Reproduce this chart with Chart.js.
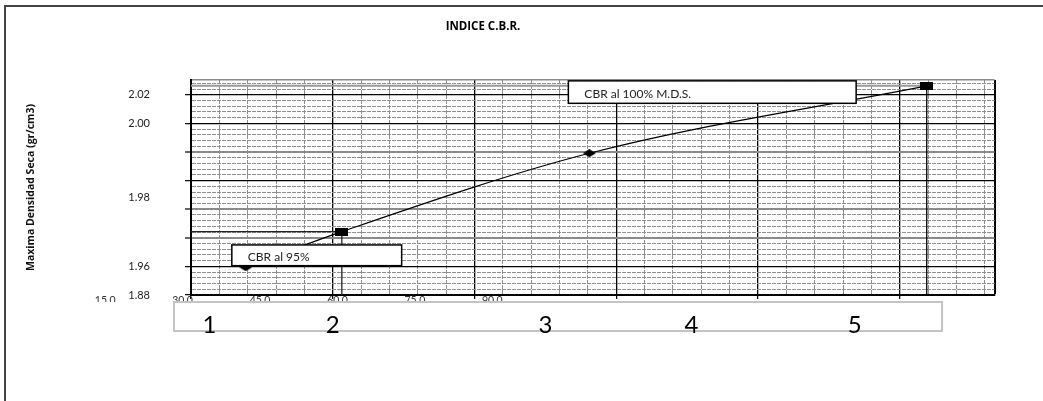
<!DOCTYPE html>
<html lang="es">
<head>
  <meta charset="UTF-8" />
  <title>Indice C.B.R.</title>
  <script src="https://cdn.jsdelivr.net/npm/chart.js@4.4.1/dist/chart.umd.min.js"></script>
  <style>
    body { margin: 0; background: #fff; }
    #wrap { width: 1043px; height: 401px; }
  </style>
</head>
<body>
  <div id="wrap"><canvas id="cbrChart" width="1043" height="401"></canvas></div>

  <script>
    // curva de densidad (x en divisiones de la cuadricula, y densidad seca)
    const puntosX = [1.93, 5.32, 14.05, 25.95];
    const densidad = [1.8994, 1.9243, 1.9791, 2.0262];
    const marcadores = ['rombo', 'cuadro', 'rombo', 'cuadro'];

    // etiquetas tal como aparecen en el eje vertical
    const etiquetasY = { '2.020': '2.02', '2.000': '2.00', '1.948': '1.98', '1.900': '1.96', '1.880': '1.88' };
    // lineas principales horizontales: negras o grises
    const mayoresGrises = ['1.920', '1.940', '1.980'];
    // eje secundario inferior
    const valoresX2 = [15, 30, 45, 60, 75, 90];
    // numeros dentro del recuadro gris
    const numerosCaja = ['1', '2', '3', '4', '5'];
    const posNumeros = [0.65, 5.0, 12.5, 17.65, 23.41];

    const notas = [
      { texto: 'CBR al 95%', x0: 1.44, x1: 7.43, y0: 1.915, y1: 1.9005 },
      { texto: 'CBR al 100% M.D.S.', x0: 13.31, x1: 23.46, y0: 2.0297, y1: 2.014 }
    ];

    const X_MAX = 28.34;
    const Y_MIN = 1.88;
    const Y_MAX = 2.0303;

    Chart.defaults.font.family = 'Lato';

    function marcador(tipo) {
      const c = document.createElement('canvas');
      c.width = 13; c.height = 8;
      const g = c.getContext('2d');
      g.fillStyle = '#000';
      if (tipo === 'cuadro') {
        g.fillRect(0, 0, 13, 8);
      } else {
        g.beginPath();
        g.moveTo(0, 4); g.lineTo(6.5, 0); g.lineTo(13, 4); g.lineTo(6.5, 8);
        g.closePath();
        g.fill();
      }
      return c;
    }

    function estiloY(tick) {
      if (!tick) return { color: '#000', width: 2, dash: [] };
      const v = tick.value;
      if (v > 2.029) return { color: '#8a8a8a', width: 1.5, dash: [] };
      const k = Math.round((v - Y_MIN) / 0.004);
      if (k % 5 === 0) {
        if (mayoresGrises.includes(v.toFixed(3))) return { color: '#8a8a8a', width: 2, dash: [] };
        return { color: '#000', width: 1.3, dash: [] };
      }
      return { color: '#8f8f8f', width: 1, dash: [4, 1] };
    }

    function estiloX(tick) {
      if (!tick) return { color: '#000', width: 2, dash: [] };
      const v = tick.value;
      if (v > 28.3) return { color: '#000', width: 2, dash: [] };
      if (Math.round(v) % 5 === 0) return { color: '#000', width: 1.3, dash: [] };
      return { color: '#8f8f8f', width: 1, dash: [4, 1] };
    }

    const fondo = {
      id: 'fondo',
      beforeDraw(chart) {
        const ctx = chart.ctx;
        ctx.save();
        ctx.fillStyle = '#fff';
        ctx.fillRect(0, 0, chart.width, chart.height);
        ctx.strokeStyle = '#444';
        ctx.lineWidth = 2;
        ctx.beginPath();
        ctx.moveTo(5, chart.height);
        ctx.lineTo(5, 6);
        ctx.lineTo(chart.width, 6);
        ctx.stroke();
        ctx.fillStyle = '#000';
        ctx.font = 'bold 11.5px "Open Sans"';
        ctx.textAlign = 'center';
        ctx.textBaseline = 'middle';
        ctx.fillText('INDICE C.B.R.', 483, 27);
        ctx.restore();
      }
    };

    const cajas = {
      id: 'cajas',
      afterDatasetsDraw(chart) {
        const { ctx, scales: { x, y, xn } } = chart;
        ctx.save();
        // recuadro gris de los numeros
        const bx0 = x.getPixelForValue(-0.6), bx1 = x.getPixelForValue(26.49);
        ctx.fillStyle = '#fff';
        ctx.fillRect(bx0, xn.top, bx1 - bx0, 29);
        ctx.strokeStyle = '#c4c4c4';
        ctx.lineWidth = 2;
        ctx.strokeRect(bx0, xn.top, bx1 - bx0, 29);
        // cuadros de texto
        notas.forEach(n => {
          const l = x.getPixelForValue(n.x0), r = x.getPixelForValue(n.x1);
          const t = y.getPixelForValue(n.y0), b = y.getPixelForValue(n.y1);
          ctx.fillStyle = '#fff';
          ctx.fillRect(l, t, r - l, b - t);
          ctx.strokeStyle = '#000';
          ctx.lineWidth = 1.5;
          ctx.strokeRect(l, t, r - l, b - t);
          ctx.fillStyle = '#222';
          ctx.font = '12px Lato';
          ctx.textAlign = 'left';
          ctx.textBaseline = 'middle';
          ctx.fillText(n.texto, l + 16, (t + b) / 2 + 2);
        });
        ctx.restore();
      }
    };

    const ctx = document.getElementById('cbrChart').getContext('2d');

    new Chart(ctx, {
      type: 'line',
      data: {
        datasets: [
          {
            label: 'Densidad',
            data: puntosX.map((x, i) => ({ x: x, y: densidad[i] })),
            borderColor: '#000',
            borderWidth: 1.2,
            cubicInterpolationMode: 'monotone',
            pointStyle: marcadores.map(marcador),
            pointRadius: 4,
            fill: false
          },
          {
            label: '95%',
            data: [{ x: 0, y: densidad[1] }, { x: puntosX[1], y: densidad[1] }, { x: puntosX[1], y: Y_MIN }],
            borderColor: '#222',
            borderWidth: 1.3,
            pointRadius: 0,
            tension: 0
          },
          {
            label: '100% vertical',
            data: [{ x: puntosX[3], y: densidad[3] }, { x: puntosX[3], y: Y_MIN }],
            borderColor: '#000',
            borderWidth: 1.3,
            pointRadius: 0
          },
          {
            label: '100% horizontal',
            data: [{ x: 0, y: densidad[3] }, { x: puntosX[3], y: densidad[3] }],
            borderColor: '#999',
            borderWidth: 2,
            pointRadius: 0
          }
        ]
      },
      options: {
        responsive: false,
        devicePixelRatio: 1,
        animation: false,
        events: [],
        layout: { padding: { top: 80, left: 0, right: 48.5, bottom: 59 } },
        plugins: {
          legend: { display: false },
          tooltip: { enabled: false },
          title: { display: false }
        },
        scales: {
          x: {
            type: 'linear',
            position: 'bottom',
            weight: 0,
            min: 0,
            max: X_MAX,
            afterBuildTicks: s => {
              const t = [];
              for (let k = 0; k <= 28; k++) t.push({ value: k });
              t.push({ value: X_MAX });
              s.ticks = t;
            },
            afterFit: s => { s.height = 0; },
            ticks: { display: false },
            grid: {
              color: c => estiloX(c.tick).color,
              lineWidth: c => estiloX(c.tick).width,
              drawTicks: true,
              tickLength: 4,
              tickWidth: 1.2,
              tickColor: c => (c.tick && Math.round(c.tick.value) % 5 === 0 && c.tick.value < 28.3) ? '#000' : 'rgba(0,0,0,0)'
            },
            border: { display: true, color: '#000', width: 2, dash: c => estiloX(c.tick).dash }
          },
          xv: {
            type: 'linear',
            position: 'bottom',
            weight: 1,
            min: 31.63,
            max: 187.3,
            afterBuildTicks: s => { s.ticks = valoresX2.map(v => ({ value: v })); },
            afterFit: s => { s.height = 7; },
            grid: { display: false, drawTicks: false },
            border: { display: false },
            ticks: {
              autoSkip: false,
              maxRotation: 0,
              minRotation: 0,
              padding: -1,
              color: '#333',
              font: { size: 10.5 },
              callback: v => v.toFixed(1)
            }
          },
          xn: {
            type: 'linear',
            position: 'bottom',
            weight: 2,
            min: 0,
            max: X_MAX,
            afterBuildTicks: s => { s.ticks = posNumeros.map(v => ({ value: v })); },
            afterFit: s => { s.height = 40; },
            grid: { display: false, drawTicks: false },
            border: { display: false },
            ticks: {
              z: 1,
              autoSkip: false,
              maxRotation: 0,
              minRotation: 0,
              padding: 9,
              color: '#000',
              font: { size: 24 },
              callback: (v, i) => numerosCaja[i]
            }
          },
          y: {
            type: 'linear',
            position: 'left',
            min: Y_MIN,
            max: Y_MAX,
            afterBuildTicks: s => {
              const t = [];
              for (let k = 0; k <= 37; k++) t.push({ value: Math.round((Y_MIN + 0.004 * k) * 1000) / 1000 });
              t.push({ value: Y_MAX });
              s.ticks = t;
            },
            afterFit: s => { s.width = 191; },
            ticks: {
              autoSkip: false,
              padding: 35,
              color: '#222',
              font: { size: 11 },
              callback: v => etiquetasY[v.toFixed(3)] || ''
            },
            grid: {
              color: c => estiloY(c.tick).color,
              lineWidth: c => estiloY(c.tick).width,
              drawTicks: true,
              tickLength: 6,
              tickWidth: 1.2,
              tickColor: c => {
                if (!c.tick) return '#000';
                const k = Math.round((c.tick.value - Y_MIN) / 0.004);
                return (k % 5 === 0 && c.tick.value < 2.029) ? '#000' : 'rgba(0,0,0,0)';
              }
            },
            border: { display: true, color: '#000', width: 2, dash: c => estiloY(c.tick).dash },
            title: {
              display: true,
              text: 'Maxima Densidad Seca (gr/cm3)',
              color: '#111',
              font: { family: 'Open Sans', size: 10.5, weight: 'bold' },
              padding: { top: 25, bottom: 0 }
            }
          }
        }
      },
      plugins: [fondo, cajas]
    });
  </script>
</body>
</html>
